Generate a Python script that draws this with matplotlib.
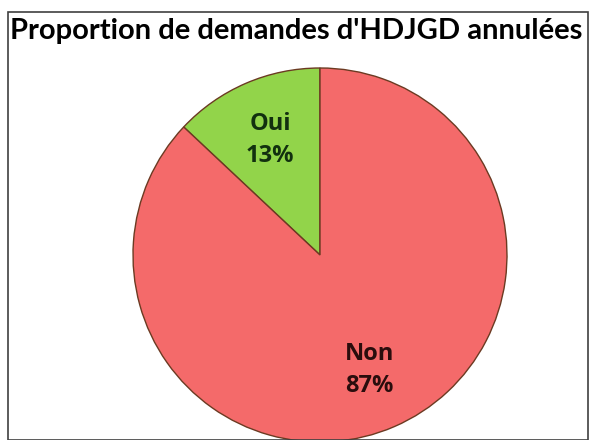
import numpy as np
import matplotlib
matplotlib.use('Agg')
import matplotlib.pyplot as plt
from matplotlib.patches import Rectangle

title = "Proportion de demandes d'HDJGD annulées"
labels = ['Oui', 'Non']
values = [13, 87]
colors = ['#92D44A', '#F46A6A']
text_colors = ['#12300f', '#2a0d0d']

fig = plt.figure(figsize=(5.9, 4.4), dpi=100)
W, H = 590, 440

# frame around the chart
fig.patches.append(Rectangle((8 / W, 0), 580 / W, (H - 12) / H, transform=fig.transFigure,
                             fill=False, edgecolor='#404040', linewidth=1.2))

fig.text(10 / W, 1 - 31 / H, title, ha='left', va='center', fontsize=21,
         fontweight='bold', family='Lato', color='black')

# pie centre (320, 255) px, radius 187 px
cx, cy, r = 320, 255, 187
ax = fig.add_axes([(cx - r) / W, (H - cy - r) / H, 2 * r / W, 2 * r / H])
wedges, _ = ax.pie(values, colors=colors, startangle=90, counterclock=True,
                   wedgeprops=dict(edgecolor='#6b3a22', linewidth=1.0))
ax.set_xlim(-1, 1)
ax.set_ylim(-1, 1)
ax.set_aspect('equal')
ax.axis('off')

for w, lab, v, tc in zip(wedges, labels, values, text_colors):
    ang = np.deg2rad((w.theta1 + w.theta2) / 2)
    d = 0.67
    x, y = d * np.cos(ang), d * np.sin(ang)
    ax.text(x, y, f'{lab}\n{v}%', ha='center', va='center', fontsize=17,
            fontweight='bold', family='Open Sans', color=tc, linespacing=1.4)

fig.savefig('out.png', dpi=100)
